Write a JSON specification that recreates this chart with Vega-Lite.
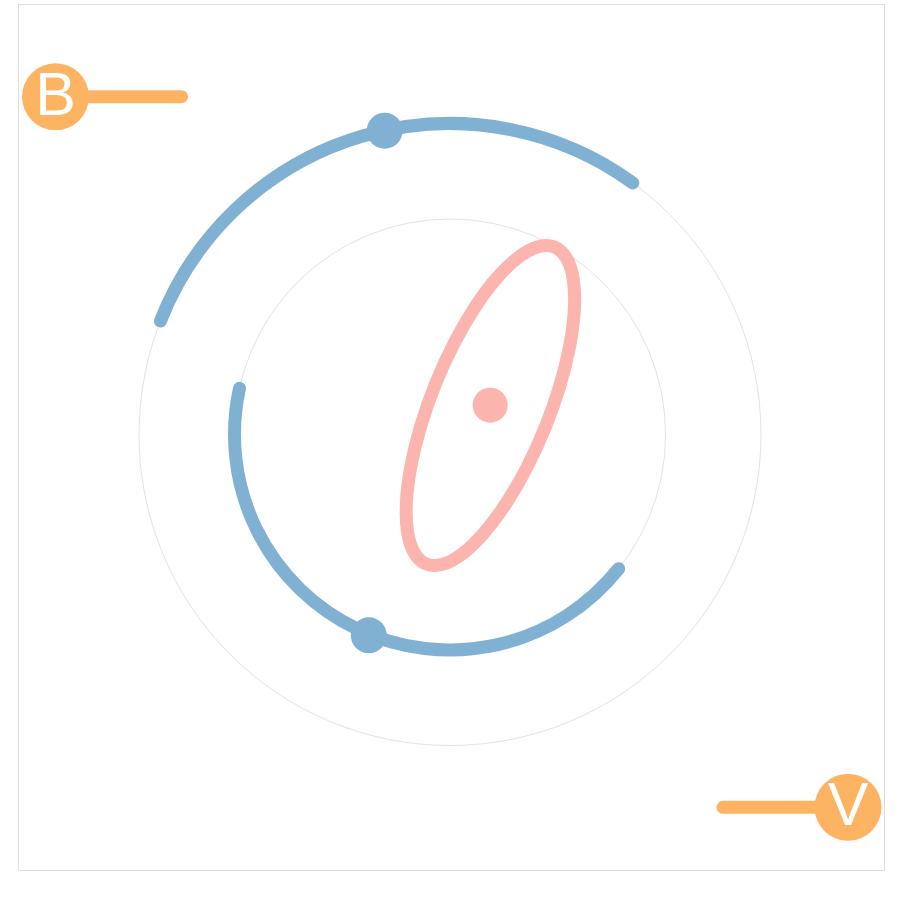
{
  "$schema": "https://vega.github.io/schema/vega-lite/v6.json",
  "width": 866,
  "height": 866,
  "padding": {"left": 18, "top": 4, "right": 16, "bottom": 30},
  "config": {"view": {"stroke": "#dddddd"}},
  "datasets": {
    "rings": [
      {"x": 0, "y": 0, "r": 311, "a0": 0, "a1": 360},
      {"x": 0, "y": 0, "r": 215.5, "a0": 0, "a1": 360}
    ],
    "arcs": [
      {"x": 0, "y": 0, "r": 311, "a0": -68.6, "a1": 36.0},
      {"x": 0, "y": 0, "r": 215.5, "a0": 128.5, "a1": 282.4}
    ],
    "bodies": [
      {"x": -65.3, "y": 303.8},
      {"x": -81.2, "y": -200.8}
    ],
    "orbit": [
      {"t": 0, "x": 104.46, "y": 187.55},
      {"t": 15, "x": 116.44, "y": 176.42},
      {"t": 30, "x": 123.23, "y": 155.25},
      {"t": 45, "x": 124.38, "y": 125.48},
      {"t": 60, "x": 119.8, "y": 89.14},
      {"t": 75, "x": 109.82, "y": 48.68},
      {"t": 90, "x": 95.1, "y": 6.9},
      {"t": 105, "x": 76.66, "y": -33.38},
      {"t": 120, "x": 55.74, "y": -69.42},
      {"t": 135, "x": 33.78, "y": -98.74},
      {"t": 150, "x": 12.27, "y": -119.35},
      {"t": 165, "x": -7.32, "y": -129.86},
      {"t": 180, "x": -23.66, "y": -129.55},
      {"t": 195, "x": -35.64, "y": -118.42},
      {"t": 210, "x": -42.43, "y": -97.25},
      {"t": 225, "x": -43.58, "y": -67.48},
      {"t": 240, "x": -39.0, "y": -31.14},
      {"t": 255, "x": -29.02, "y": 9.32},
      {"t": 270, "x": -14.3, "y": 51.1},
      {"t": 285, "x": 4.14, "y": 91.38},
      {"t": 300, "x": 25.06, "y": 127.42},
      {"t": 315, "x": 47.02, "y": 156.74},
      {"t": 330, "x": 68.53, "y": 177.35},
      {"t": 345, "x": 88.12, "y": 187.86}
    ],
    "centre": [{"x": 40.2, "y": 29.3}],
    "arrows": [
      {"id": "B", "x": -394.5, "y": 337.8},
      {"id": "B", "x": -268.5, "y": 337.8},
      {"id": "V", "x": 273, "y": -372.8},
      {"id": "V", "x": 398, "y": -372.8}
    ],
    "badges": [
      {"label": "B", "x": -394.5, "y": 337.8},
      {"label": "V", "x": 398, "y": -372.8}
    ]
  },
  "encoding": {
    "x": {"field": "x", "type": "quantitative", "scale": {"domain": [-432, 434], "nice": false, "zero": false}, "axis": null},
    "y": {"field": "y", "type": "quantitative", "scale": {"domain": [-435.5, 430.5], "nice": false, "zero": false}, "axis": null}
  },
  "layer": [
    {
      "data": {"name": "rings"},
      "mark": {"type": "arc", "filled": false, "stroke": "#e3e3e3", "strokeWidth": 1},
      "encoding": {
        "theta": {"field": "a0", "type": "quantitative", "stack": null, "scale": {"type": "linear", "domain": [0, 360], "range": [0, 6.283185307179586], "zero": false, "nice": false}},
        "theta2": {"field": "a1"},
        "radius": {"field": "r", "type": "quantitative", "scale": {"type": "linear", "domain": [0, 100], "range": [0, 100], "zero": false, "nice": false}}
      }
    },
    {
      "data": {"name": "arcs"},
      "mark": {"type": "arc", "filled": false, "stroke": "#80b1d3", "strokeWidth": 13, "strokeJoin": "round", "strokeCap": "round"},
      "encoding": {
        "theta": {"field": "a0", "type": "quantitative", "stack": null, "scale": {"type": "linear", "domain": [0, 360], "range": [0, 6.283185307179586], "zero": false, "nice": false}},
        "theta2": {"field": "a1"},
        "radius": {"field": "r", "type": "quantitative", "scale": {"type": "linear", "domain": [0, 100], "range": [0, 100], "zero": false, "nice": false}},
        "radius2": {"field": "r"}
      }
    },
    {
      "data": {"name": "bodies"},
      "mark": {"type": "circle", "color": "#80b1d3", "opacity": 1, "size": 1296}
    },
    {
      "data": {"name": "orbit"},
      "mark": {"type": "line", "interpolate": "cardinal-closed", "color": "#fbb4ae", "strokeWidth": 13},
      "encoding": {"order": {"field": "t", "type": "quantitative"}}
    },
    {
      "data": {"name": "centre"},
      "mark": {"type": "circle", "color": "#fbb4ae", "opacity": 1, "size": 1225}
    },
    {
      "data": {"name": "arrows"},
      "mark": {"type": "line", "color": "#fdb462", "strokeWidth": 13, "strokeCap": "round"},
      "encoding": {"detail": {"field": "id", "type": "nominal"}}
    },
    {
      "data": {"name": "badges"},
      "mark": {"type": "circle", "color": "#fdb462", "opacity": 1, "size": 4489}
    },
    {
      "data": {"name": "badges"},
      "mark": {"type": "text", "color": "white", "fontSize": 61, "align": "center", "baseline": "middle"},
      "encoding": {"text": {"field": "label", "type": "nominal"}}
    }
  ]
}
